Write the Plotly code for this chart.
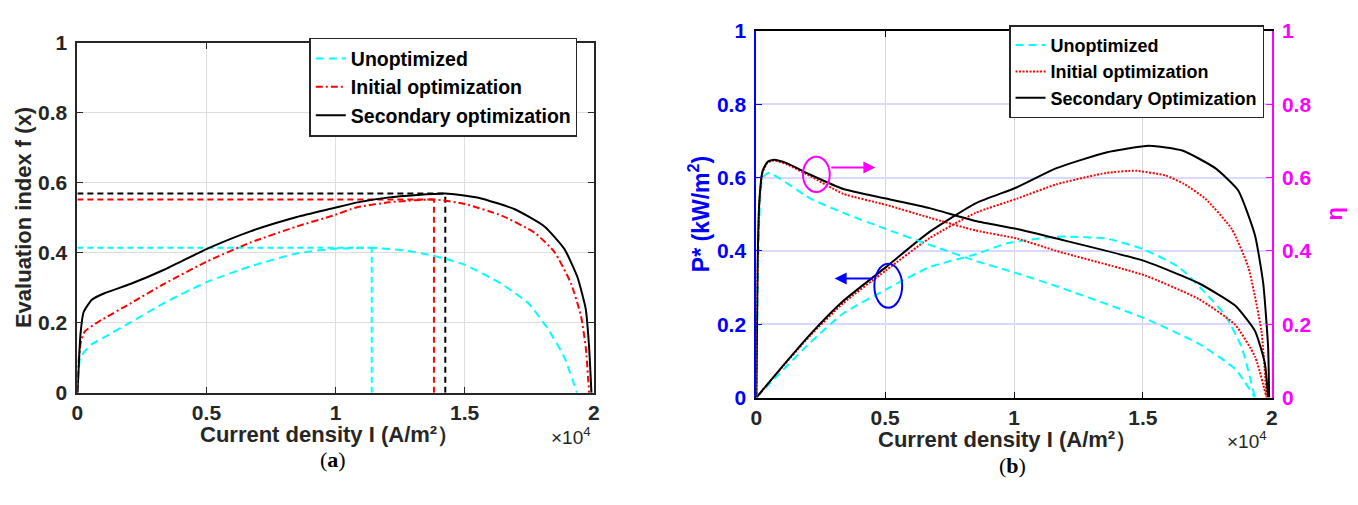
import plotly.graph_objects as go

# ---------------- data (current density in A/m^2) ----------------
# (a) evaluation index f(x)
a_x_unopt = [0, 50, 110, 300, 560, 1000, 2100, 3400, 5000, 6700, 8500, 9900, 11400, 12500, 13700, 15000, 16400, 17450, 18200, 18850, 19350]
a_f_unopt = [0, 0.06, 0.10, 0.12, 0.139, 0.157, 0.203, 0.258, 0.316, 0.361, 0.398, 0.411, 0.414, 0.408, 0.393, 0.366, 0.312, 0.257, 0.185, 0.103, 0]

a_x_init = [0, 50, 150, 300, 820, 2100, 3380, 5020, 6700, 8500, 9900, 10800, 12080, 13810, 15020, 16430, 17710, 18480, 19120, 19500, 19690, 19820]
a_f_init = [0, 0.094, 0.15, 0.176, 0.203, 0.257, 0.312, 0.375, 0.429, 0.475, 0.506, 0.529, 0.544, 0.552, 0.539, 0.506, 0.457, 0.402, 0.312, 0.221, 0.13, 0]

a_x_sec = [0, 30, 120, 240, 560, 1070, 2100, 3380, 5020, 6700, 8500, 9900, 10800, 12080, 14250, 15530, 16940, 18090, 18860, 19370, 19690, 19820, 19910]
a_f_sec = [0, 0.04, 0.167, 0.23, 0.266, 0.285, 0.312, 0.352, 0.411, 0.461, 0.502, 0.527, 0.543, 0.558, 0.569, 0.557, 0.524, 0.475, 0.411, 0.33, 0.239, 0.13, 0]

# optimum markers (peak current density, peak f)
a_peak_x = [11400, 13810, 14250]
a_peak_f = [0.414, 0.552, 0.569]

# (b) power density P* (kW/m^2) and efficiency eta
b_x_p_unopt = [0, 820, 2100, 3380, 5030, 6720, 8510, 9730, 11650, 13580, 15050, 16400, 17420, 18190, 18830, 19350]
b_p_unopt = [0, 0.06, 0.151, 0.23, 0.295, 0.356, 0.391, 0.421, 0.439, 0.434, 0.404, 0.356, 0.286, 0.225, 0.138, 0]

b_x_p_init = [0, 820, 2100, 3380, 5030, 6720, 8510, 10120, 11650, 13580, 14730, 15880, 16600, 17420, 18450, 19090, 19600, 19800]
b_p_init = [0, 0.068, 0.17, 0.258, 0.347, 0.435, 0.504, 0.543, 0.582, 0.613, 0.619, 0.606, 0.583, 0.543, 0.46, 0.356, 0.182, 0]

b_x_p_sec = [0, 820, 2100, 3380, 5030, 6720, 8510, 10120, 11650, 13580, 15240, 16530, 17810, 18700, 19350, 19670, 19860, 19900]
b_p_sec = [0, 0.069, 0.173, 0.264, 0.356, 0.452, 0.53, 0.574, 0.626, 0.669, 0.687, 0.674, 0.626, 0.565, 0.443, 0.312, 0.138, 0]

b_x_eta_unopt = [0, 50, 120, 240, 500, 2100, 3380, 5030, 6720, 8510, 10120, 11650, 15050, 17170, 18580, 19350]
b_eta_unopt = [0, 0.278, 0.495, 0.6, 0.613, 0.543, 0.504, 0.46, 0.417, 0.373, 0.339, 0.304, 0.217, 0.147, 0.078, 0]

b_x_eta_init = [0, 50, 120, 240, 430, 690, 1200, 2100, 3380, 5030, 6720, 8510, 10120, 11650, 15050, 17170, 18580, 19350, 19800]
b_eta_init = [0, 0.36, 0.535, 0.615, 0.641, 0.647, 0.636, 0.604, 0.556, 0.526, 0.491, 0.456, 0.434, 0.4, 0.334, 0.269, 0.199, 0.112, 0]

b_x_eta_sec = [0, 50, 120, 240, 430, 690, 1200, 2100, 3380, 5030, 6720, 8510, 10120, 11650, 15050, 17170, 18580, 19350, 19730, 19860]
b_eta_sec = [0, 0.365, 0.539, 0.617, 0.643, 0.649, 0.639, 0.608, 0.569, 0.543, 0.517, 0.482, 0.46, 0.434, 0.373, 0.312, 0.251, 0.182, 0.095, 0]

x_tickvals = [0, 5000, 10000, 15000, 20000]
x_ticktext = ["0", "0.5", "1", "1.5", "2"]
y_tickvals = [0, 0.2, 0.4, 0.6, 0.8, 1]
y_ticktext = ["0", "0.2", "0.4", "0.6", "0.8", "1"]

names_a = ["Unoptimized", "Initial optimization", "Secondary optimization"]
names_b = ["Unoptimized", "Initial optimization", "Secondary Optimization"]

# ---------------- styling ----------------
W, H = 1358, 505
FONT = "Liberation Sans, Arial, Helvetica, sans-serif"
DARK = "#262626"
CYAN, RED, BLACK = "#00FFFF", "#FF0000", "#000000"
BLUE, MAG = "#0000FF", "#FF00FF"
TICK = 21
TITLE = 22

def px(v):
    return v / W

def py(v):
    return (H - v) / H

fig = go.Figure()

# ---- (a) reference lines for optima
ref_cols = [CYAN, RED, BLACK]
for xp, fp, c in zip(a_peak_x, a_peak_f, ref_cols):
    fig.add_trace(go.Scatter(x=[0, xp], y=[fp, fp], mode="lines", xaxis="x", yaxis="y",
                             line=dict(color=c, width=2, dash="6px,4px"), showlegend=False, hoverinfo="skip"))
    fig.add_trace(go.Scatter(x=[xp, xp], y=[0, fp], mode="lines", xaxis="x", yaxis="y",
                             line=dict(color=c, width=2, dash="6px,4px"), showlegend=False, hoverinfo="skip"))

SM = 0.5
fig.add_trace(go.Scatter(x=a_x_unopt, y=a_f_unopt, mode="lines", name=names_a[0], xaxis="x", yaxis="y",
                         line=dict(color=CYAN, width=2, dash="8px,5px", shape="spline", smoothing=SM), legend="legend"))
fig.add_trace(go.Scatter(x=a_x_init, y=a_f_init, mode="lines", name=names_a[1], xaxis="x", yaxis="y",
                         line=dict(color=RED, width=2, dash="7px,3px,2px,3px", shape="spline", smoothing=SM), legend="legend"))
fig.add_trace(go.Scatter(x=a_x_sec, y=a_f_sec, mode="lines", name=names_a[2], xaxis="x", yaxis="y",
                         line=dict(color=BLACK, width=2, shape="spline", smoothing=SM), legend="legend"))

# ---- (b)
b_sets = [
    (b_x_p_unopt, b_p_unopt, b_x_eta_unopt, b_eta_unopt, CYAN, "8px,5px"),
    (b_x_p_init, b_p_init, b_x_eta_init, b_eta_init, RED, "2px,1.5px"),
    (b_x_p_sec, b_p_sec, b_x_eta_sec, b_eta_sec, BLACK, "solid"),
]
for i, (xp_, p_, xe_, e_, c, d) in enumerate(b_sets):
    fig.add_trace(go.Scatter(x=xp_, y=p_, mode="lines", name=names_b[i], xaxis="x2", yaxis="y2",
                             line=dict(color=c, width=2, dash=d, shape="spline", smoothing=SM),
                             legend="legend2"))
    fig.add_trace(go.Scatter(x=xe_, y=e_, mode="lines", name=names_b[i], xaxis="x2", yaxis="y3",
                             line=dict(color=c, width=2, dash=d, shape="spline", smoothing=SM),
                             showlegend=False))

tickfont_dark = dict(family=FONT, size=TICK, color=DARK, weight="bold")

common_x = dict(range=[0, 20000], tickvals=x_tickvals, ticktext=x_ticktext, ticks="inside", ticklen=6,
                showline=True, linewidth=2, mirror="ticks", zeroline=False, showgrid=True)
common_y = dict(range=[0, 1], tickvals=y_tickvals, ticktext=y_ticktext, ticks="inside", ticklen=6,
                showline=True, linewidth=2, zeroline=False, ticklabelstandoff=4)

fig.update_layout(
    width=W, height=H, margin=dict(l=0, r=0, t=0, b=0),
    paper_bgcolor="white", plot_bgcolor="white",
    font=dict(family=FONT, color=DARK),
    xaxis=dict(domain=[px(72), px(593)], anchor="y", linecolor=DARK, tickcolor=DARK,
               gridcolor="#dedede", gridwidth=1, tickfont=tickfont_dark, **common_x),
    yaxis=dict(domain=[py(399), py(32)], anchor="x", linecolor=DARK, tickcolor=DARK, mirror="ticks",
               showgrid=True, gridcolor="#dedede", gridwidth=1, tickfont=tickfont_dark, **common_y),
    xaxis2=dict(domain=[px(757), px(1277)], anchor="y2", linecolor=BLACK, tickcolor=BLACK,
                gridcolor="#d6d6d6", gridwidth=1, tickfont=dict(family=FONT, size=TICK, color=DARK, weight="bold"),
                **common_x),
    yaxis2=dict(domain=[py(404), py(20)], anchor="x2", linecolor=BLUE, tickcolor=BLUE, showgrid=True,
                gridcolor="#d9d9ff", gridwidth=1.5, tickfont=dict(family=FONT, size=TICK, color=BLUE, weight="bold"),
                **common_y),
    yaxis3=dict(overlaying="y2", side="right", anchor="x2", linecolor=MAG, tickcolor=MAG, showgrid=False,
                tickfont=dict(family=FONT, size=TICK, color=MAG, weight="bold"), **common_y),
    legend=dict(x=px(306), y=py(27), xanchor="left", yanchor="top", bgcolor="white",
                bordercolor=DARK, borderwidth=1.5, font=dict(family=FONT, size=19.5, color="#000", weight="bold"),
                tracegroupgap=0, itemwidth=30),
    legend2=dict(x=px(1012), y=py(14), xanchor="left", yanchor="top", bgcolor="white",
                 bordercolor=DARK, borderwidth=1.5, font=dict(family=FONT, size=18, color="#000", weight="bold"),
                 tracegroupgap=0, itemwidth=30),
    showlegend=True,
)

# ---- ellipses and arrows in (b)
fig.add_shape(type="circle", xref="x2", yref="y2", x0=1810, x1=2850, y0=0.561, y1=0.657,
              line=dict(color=MAG, width=2))
fig.add_shape(type="circle", xref="x2", yref="y2", x0=4580, x1=5660, y0=0.245, y1=0.365,
              line=dict(color=BLUE, width=2))
fig.add_annotation(x=4620, y=0.628, ax=2850, ay=0.628, xref="x2", yref="y2", axref="x2", ayref="y2",
                   text="", showarrow=True, arrowhead=2, arrowsize=1.2, arrowwidth=2, arrowcolor=MAG)
fig.add_annotation(x=3040, y=0.325, ax=4580, ay=0.325, xref="x2", yref="y2", axref="x2", ayref="y2",
                   text="", showarrow=True, arrowhead=2, arrowsize=1.2, arrowwidth=2, arrowcolor=BLUE)

# ---- titles & labels
def ann(text, x, y, size, color=DARK, angle=0, family=FONT, xanchor="center"):
    fig.add_annotation(text=text, x=px(x), y=py(y), xref="paper", yref="paper", showarrow=False,
                       font=dict(family=family, size=size, color=color), textangle=angle,
                       xanchor=xanchor, yanchor="middle", borderpad=0)

ann("<b>Evaluation index f (x)</b>", 17, 215, TITLE, angle=-90)
ann("<b>Current density I (A/m²）</b>", 326, 443, TITLE)
ann("×10<sup>4</sup>", 570, 444, 19)
ann("(<b>a</b>)", 330, 469, 22, color="#000", family="Liberation Serif, DejaVu Serif, serif")

ann("<b>P* (kW/m<sup>2</sup>)</b>", 700, 212, 23, color=BLUE, angle=-90)
ann("<b>η</b>", 1340, 212, TITLE, color=MAG, angle=-90)
ann("<b>Current density I (A/m²）</b>", 1010, 448, TITLE)
ann("×10<sup>4</sup>", 1252, 448, 19)
ann("(<b>b</b>)", 1015, 475, 22, color="#000", family="Liberation Serif, DejaVu Serif, serif")

fig.write_html("out.html")
